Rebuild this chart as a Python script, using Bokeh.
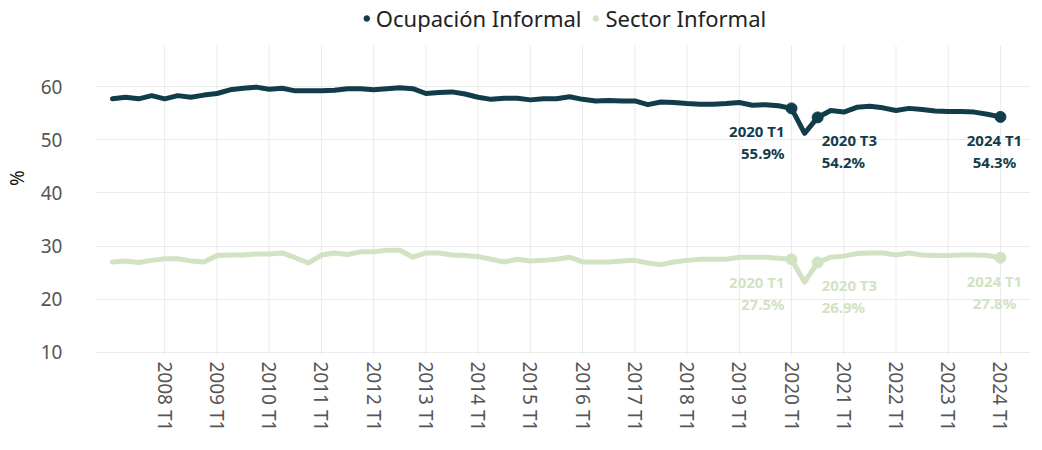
from bokeh.plotting import figure
from bokeh.models import Range1d, FixedTicker, Legend, LegendItem
from bokeh.embed import file_html
from bokeh.resources import INLINE
from bokeh.core.properties import value

# ---------------- data ----------------
quarters = [f"{y} T{q}" for y in range(2007, 2025) for q in (1, 2, 3, 4)][:69]

ocupacion_informal = [
    57.7, 58.0, 57.7, 58.3, 57.7, 58.3, 58.0, 58.4,
    58.7, 59.4, 59.7, 59.9, 59.5, 59.7, 59.2, 59.2,
    59.2, 59.3, 59.6, 59.6, 59.4, 59.6, 59.8, 59.6,
    58.7, 58.9, 59.0, 58.6, 58.0, 57.6, 57.8, 57.8,
    57.5, 57.7, 57.7, 58.1, 57.6, 57.3, 57.4, 57.3,
    57.3, 56.6, 57.1, 57.0, 56.8, 56.7, 56.7, 56.8,
    57.0, 56.5, 56.6, 56.4, 55.9, 51.2, 54.2, 55.5,
    55.2, 56.1, 56.3, 56.0, 55.5, 55.9, 55.7, 55.4,
    55.3, 55.3, 55.2, 54.8, 54.3,
]

sector_informal = [
    27.0, 27.2, 26.9, 27.3, 27.6, 27.6, 27.2, 27.0,
    28.2, 28.3, 28.3, 28.5, 28.5, 28.7, 27.8, 26.8,
    28.3, 28.7, 28.4, 28.9, 28.9, 29.2, 29.2, 27.9,
    28.7, 28.7, 28.3, 28.2, 28.0, 27.5, 27.0, 27.5,
    27.2, 27.3, 27.5, 27.9, 27.0, 27.0, 27.0, 27.2,
    27.3, 26.8, 26.5, 27.0, 27.3, 27.5, 27.5, 27.5,
    27.9, 27.9, 27.9, 27.7, 27.5, 23.2, 26.9, 27.9,
    28.1, 28.6, 28.7, 28.7, 28.3, 28.7, 28.3, 28.2,
    28.2, 28.3, 28.3, 28.2, 27.8,
]

highlight_quarters = ["2020 T1", "2020 T3", "2024 T1"]
tick_labels = [f"{y} T1" for y in range(2008, 2025)]
y_ticks = [10, 20, 30, 40, 50, 60]

series_names = ["Ocupación Informal", "Sector Informal"]

# ---------------- styles ----------------
DARK = "#113d4b"
LIGHT = "#d1e3c3"
GRID = "#ebebeb"
FONT = "Noto Sans"

label_style = {  # alignment and pixel offset for each highlighted quarter
    "2020 T1": ("right", -7),
    "2020 T3": ("left", 4),
    "2024 T1": ("center", -6),
}

Y_BOTTOM, Y_TOP, GRID_TOP = 9.4, 76.2, 67.7

idx = list(range(len(quarters)))

p = figure(width=1030, height=434, output_backend="svg", toolbar_location=None,
           x_range=Range1d(-1.3, 70.3), y_range=Range1d(Y_BOTTOM, Y_TOP),
           min_border_left=87, min_border_right=0, min_border_top=0, min_border_bottom=70)
p.outline_line_color = None
p.background_fill_color = "white"
p.border_fill_color = "white"

tick_pos = [quarters.index(t) for t in tick_labels]

# vertical grid lines (stop below the legend)
p.segment(x0=tick_pos, y0=[Y_BOTTOM] * len(tick_pos), x1=tick_pos, y1=[GRID_TOP] * len(tick_pos),
          line_color=GRID, line_width=1)

legend_items = []
for name, vals, col in [(series_names[0], ocupacion_informal, DARK),
                        (series_names[1], sector_informal, LIGHT)]:
    p.line(idx, vals, line_color=col, line_width=5, line_join="round", line_cap="round")
    hx = [quarters.index(q) for q in highlight_quarters]
    hy = [vals[i] for i in hx]
    r = p.scatter(hx, hy, size=11, marker="circle", fill_color=col, line_color=col)
    legend_items.append(LegendItem(label=name, renderers=[r]))
    for q, x, y in zip(highlight_quarters, hx, hy):
        align, xo = label_style[q]
        for txt, yo in ((q, 23), (f"{y}%", 45)):
            p.text(x=[x], y=[y], text=[txt], x_offset=xo, y_offset=yo,
                   text_align=align, text_baseline="middle", text_color=col,
                   text_font=value(FONT), text_font_style="bold", text_font_size="15px")

# axes
p.xaxis.ticker = FixedTicker(ticks=tick_pos)
p.xaxis.major_label_overrides = {pos: lab for pos, lab in zip(tick_pos, tick_labels)}
p.xaxis.major_label_orientation = "vertical"
p.yaxis.ticker = FixedTicker(ticks=y_ticks)
for ax in (p.xaxis, p.yaxis):
    ax.axis_line_color = None
    ax.major_tick_line_color = None
    ax.minor_tick_line_color = None
    ax.major_tick_out = 0
    ax.major_tick_in = 0
    ax.minor_tick_out = 0
    ax.major_label_text_font = FONT
    ax.major_label_text_font_size = "19px"
    ax.major_label_text_color = "#555555"
p.xaxis.major_label_standoff = 6
p.yaxis.major_label_standoff = 33
p.yaxis.axis_label = "%"
p.yaxis.axis_label_text_font = FONT
p.yaxis.axis_label_text_font_size = "19px"
p.yaxis.axis_label_text_font_style = "normal"
p.yaxis.axis_label_text_color = "#111111"
p.yaxis.axis_label_standoff = 8

p.xgrid.grid_line_color = None
p.ygrid.grid_line_color = GRID
p.ygrid.ticker = FixedTicker(ticks=y_ticks)

legend = Legend(items=legend_items, orientation="horizontal", location="top_center",
                label_text_font=FONT, label_text_font_size="22px", label_text_color="#222222",
                glyph_width=14, glyph_height=14, label_standoff=3, spacing=7,
                padding=2, margin=3, border_line_color=None, background_fill_alpha=0)
p.add_layout(legend)

open("out.html", "w").write(file_html(p, INLINE))
